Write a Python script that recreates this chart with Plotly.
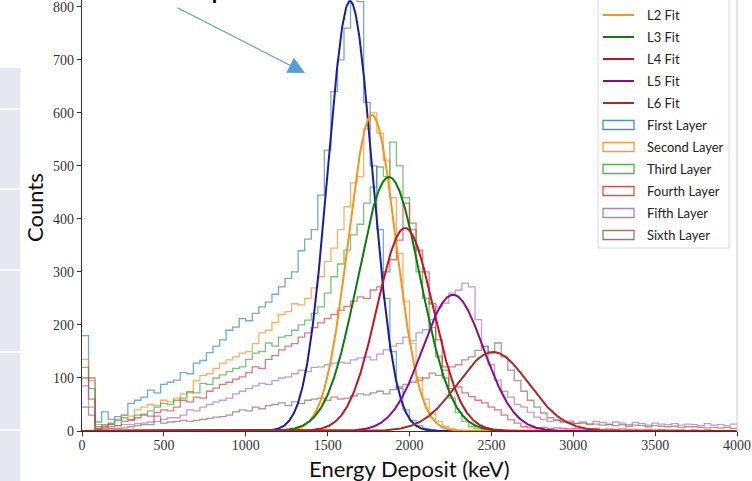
import numpy as np
import plotly.graph_objects as go

# ---- data -------------------------------------------------------------
bin_width = 40  # keV
bin_edges = np.arange(0, 4000 + bin_width, bin_width)

first_layer = [
    180, 100, 17, 36, 22, 27, 30, 52, 58, 64,
    77, 72, 88, 92, 96, 110, 108, 128, 133, 148,
    160, 172, 190, 196, 212, 208, 222, 234, 243, 258,
    272, 288, 300, 340, 362, 380, 445, 530, 640, 700,
    760, 840, 810, 620, 500, 380, 250, 150, 80, 40,
    20, 10, 5, 2, 1, 1, 0, 0, 0, 0,
    0, 0, 0, 0, 0, 0, 0, 0, 0, 0,
    0, 0, 0, 0, 0, 0, 0, 0, 0, 0,
    0, 0, 0, 0, 0, 0, 0, 0, 0, 0,
    0, 0, 0, 0, 0, 0, 0, 0, 0, 0,
]
second_layer = [
    135, 95, 12, 10, 14, 22, 30, 28, 40, 45,
    50, 48, 58, 55, 62, 70, 72, 95, 105, 108,
    118, 128, 134, 140, 147, 150, 165, 185, 190, 205,
    220, 225, 240, 238, 250, 270, 291, 320, 345, 380,
    423, 468, 480, 570, 600, 562, 511, 440, 335, 245,
    165, 100, 60, 34, 18, 9, 4, 2, 1, 1,
    0, 0, 0, 0, 0, 0, 0, 0, 0, 0,
    0, 0, 0, 0, 0, 0, 0, 0, 0, 0,
    0, 0, 0, 0, 0, 0, 0, 0, 0, 0,
    0, 0, 0, 0, 0, 0, 0, 0, 0, 0,
]
third_layer = [
    120, 80, 8, 12, 15, 20, 25, 22, 30, 32,
    38, 45, 52, 50, 58, 62, 74, 72, 90, 88,
    100, 106, 112, 118, 121, 135, 147, 150, 166, 160,
    177, 180, 190, 200, 209, 222, 234, 260, 291, 315,
    341, 370, 390, 430, 460, 498, 480, 545, 500, 440,
    380, 300, 250, 195, 140, 100, 62, 35, 18, 8,
    4, 2, 1, 0, 0, 0, 0, 0, 0, 0,
    0, 0, 0, 0, 0, 0, 0, 0, 0, 0,
    0, 0, 0, 0, 0, 0, 0, 0, 0, 0,
    0, 0, 0, 0, 0, 0, 0, 0, 0, 0,
]
fourth_layer = [
    100, 60, 5, 8, 12, 10, 18, 20, 25, 30,
    28, 35, 40, 38, 45, 58, 55, 64, 62, 75,
    81, 88, 92, 98, 102, 110, 121, 118, 135, 142,
    153, 160, 165, 177, 185, 195, 204, 212, 220, 228,
    235, 245, 253, 250, 266, 272, 300, 323, 360, 430,
    392, 341, 300, 240, 172, 121, 80, 83, 72, 65,
    58, 53, 45, 40, 30, 21, 15, 8, 6, 6,
    7, 5, 6, 5, 4, 5, 4, 4, 5, 3,
    4, 3, 4, 3, 3, 2, 3, 2, 3, 2,
    2, 2, 1, 2, 1, 2, 1, 1, 1, 1,
]
fifth_layer = [
    85, 45, 4, 6, 8, 10, 12, 12, 14, 15,
    17, 18, 22, 25, 25, 30, 40, 38, 45, 50,
    55, 58, 62, 70, 75, 80, 85, 90, 88, 95,
    100, 102, 108, 115, 112, 120, 121, 125, 128, 130,
    128, 134, 138, 140, 134, 145, 153, 160, 165, 177,
    170, 185, 191, 210, 234, 241, 260, 266, 279, 272,
    210, 160, 125, 96, 75, 64, 50, 45, 35, 26,
    22, 18, 20, 16, 19, 15, 17, 14, 18, 16,
    13, 17, 15, 12, 16, 14, 11, 15, 13, 12,
    14, 11, 13, 12, 10, 14, 11, 12, 10, 13,
]
sixth_layer = [
    45, 30, 3, 4, 5, 5, 6, 8, 10, 12,
    12, 28, 15, 17, 18, 20, 18, 20, 22, 24,
    26, 27, 30, 36, 40, 38, 45, 42, 48, 50,
    53, 48, 55, 52, 58, 60, 62, 58, 64, 60,
    62, 66, 70, 68, 72, 75, 70, 78, 83, 88,
    92, 96, 100, 109, 105, 115, 121, 125, 134, 140,
    152, 159, 147, 166, 140, 115, 95, 75, 58, 45,
    34, 25, 21, 18, 16, 14, 15, 12, 13, 11,
    12, 10, 12, 9, 11, 10, 8, 10, 9, 8,
    9, 7, 8, 8, 7, 6, 7, 6, 7, 5,
]

layer_names = ["First Layer", "Second Layer", "Third Layer",
               "Fourth Layer", "Fifth Layer", "Sixth Layer"]
layer_counts = [first_layer, second_layer, third_layer,
                fourth_layer, fifth_layer, sixth_layer]
layer_colors = ["#1f77b4", "#ff7f0e", "#2ca02c", "#d62728", "#9467bd", "#8c564b"]

# Gaussian fit parameters per layer: amplitude, mean (keV), sigma (keV)
fit_names = ["L1 Fit", "L2 Fit", "L3 Fit", "L4 Fit", "L5 Fit", "L6 Fit"]
fit_amp = [811, 596, 479, 383, 257, 149]
fit_mean = [1637, 1771, 1875, 1973, 2266, 2510]
fit_sigma = [136, 145, 190, 172, 186, 215]
fit_colors = ["#1c1c9e", "#f7941d", "#0b7a0b", "#c41424", "#8b0a8b", "#a52a2a"]

x_ticks = [0, 500, 1000, 1500, 2000, 2500, 3000, 3500, 4000]
y_ticks = [0, 100, 200, 300, 400, 500, 600, 700, 800]

# ---- figure geometry (pixels) ------------------------------------------
W, H = 752, 481
L, R, T, B = 82, 15, 0, 50
PW, PH = W - L - R, H - T - B


def px(p):
    return (p - L) / PW


def py(p):
    return (H - B - p) / PH


fig = go.Figure()

# step histograms
for name, counts, col in zip(layer_names, layer_counts, layer_colors):
    ys = list(counts) + [counts[-1]]
    fig.add_trace(go.Scatter(
        x=bin_edges, y=ys, mode="lines", line_shape="hv",
        line=dict(color=col, width=1.3), opacity=0.62,
        name=name, showlegend=False, hoverinfo="skip"))

# gaussian fits
xf = np.linspace(0, 4000, 1601)
for name, a, m, s, col in zip(fit_names, fit_amp, fit_mean, fit_sigma, fit_colors):
    yf = a * np.exp(-0.5 * ((xf - m) / s) ** 2)
    fig.add_trace(go.Scatter(
        x=xf, y=yf, mode="lines", line=dict(color=col, width=2),
        name=name, showlegend=False, hoverinfo="skip"))

tick_font = dict(family="Liberation Serif", size=14, color="#333")
axis_style = dict(showline=True, linecolor="#333", linewidth=1.2, ticks="outside",
                  ticklen=4, tickcolor="#333", showgrid=False, zeroline=False,
                  tickfont=tick_font, automargin=False, ticklabeloverflow="allow")
fig.update_xaxes(range=[0, 4000], tickvals=x_ticks,
                 ticktext=[str(v) for v in x_ticks], ticklabelstandoff=-3,
                 **axis_style)
fig.update_yaxes(range=[0, 813], tickvals=y_ticks,
                 ticktext=[str(v) for v in y_ticks], **axis_style)

shapes = []
annotations = []

# right spine
shapes.append(dict(type="line", xref="paper", yref="paper", x0=1, x1=1, y0=0, y1=1.02,
                   line=dict(color="#c8c8c8", width=1)))

# side panel on the left edge
shapes.append(dict(type="rect", xref="paper", yref="paper", layer="below",
                   x0=px(-5), x1=px(20), y0=py(490), y1=py(68),
                   fillcolor="#e6e7f0", line=dict(width=0)))
for yl in [109, 189, 270, 352, 430]:
    shapes.append(dict(type="line", xref="paper", yref="paper",
                       x0=px(-5), x1=px(20), y0=py(yl), y1=py(yl),
                       line=dict(color="white", width=1.5)))

# legend box
shapes.append(dict(type="rect", xref="paper", yref="paper",
                   x0=px(598), x1=px(729), y0=py(248), y1=py(-10),
                   fillcolor="white", line=dict(color="#dcdcdc", width=1)))
legend_font = dict(family="Lato", size=13, color="#222")
row_y0, row_dy = -7, 22
for i, (name, col) in enumerate(zip(fit_names, fit_colors)):
    yc = row_y0 + i * row_dy
    shapes.append(dict(type="line", xref="paper", yref="paper",
                       x0=px(603), x1=px(634), y0=py(yc), y1=py(yc),
                       line=dict(color=col, width=2)))
    annotations.append(dict(x=px(645), y=py(yc), xref="paper", yref="paper",
                            text=name, showarrow=False, xanchor="left",
                            yanchor="middle", font=legend_font))
for j, (name, col) in enumerate(zip(layer_names, layer_colors)):
    yc = row_y0 + (j + len(fit_names)) * row_dy
    shapes.append(dict(type="rect", xref="paper", yref="paper",
                       x0=px(603), x1=px(634), y0=py(yc + 4.5), y1=py(yc - 4.5),
                       fillcolor="white", line=dict(color=col, width=1.3),
                       opacity=0.8))
    annotations.append(dict(x=px(645), y=py(yc), xref="paper", yref="paper",
                            text=name, showarrow=False, xanchor="left",
                            yanchor="middle", font=legend_font))

# axis titles
title_font = dict(family="Lato", size=22, color="#111")
annotations.append(dict(x=0.5, y=py(468), xref="paper", yref="paper",
                        text="Energy Deposit (keV)", showarrow=False,
                        xanchor="center", yanchor="middle", font=title_font))
annotations.append(dict(x=px(34), y=py(208), xref="paper", yref="paper",
                        text="Counts", showarrow=False, textangle=-90,
                        xanchor="center", yanchor="middle", font=title_font))

# callout arrow pointing at the first-layer peak
annotations.append(dict(x=px(305), y=py(73), xref="paper", yref="paper",
                        ax=-129, ay=-66, text="", showarrow=True,
                        arrowhead=2, arrowsize=2.8, arrowwidth=1.2,
                        arrowcolor="#5b9bd5"))
# heading text running off the top edge
annotations.append(dict(x=px(209), y=py(6), xref="paper", yref="paper",
                        text="p", showarrow=False, xanchor="left", yanchor="bottom",
                        font=dict(family="Lato", size=30, color="black")))

fig.update_layout(
    width=W, height=H, template="none",
    margin=dict(l=L, r=R, t=T, b=B),
    paper_bgcolor="white", plot_bgcolor="white",
    showlegend=False, shapes=shapes, annotations=annotations,
)

fig.write_html("out.html")
